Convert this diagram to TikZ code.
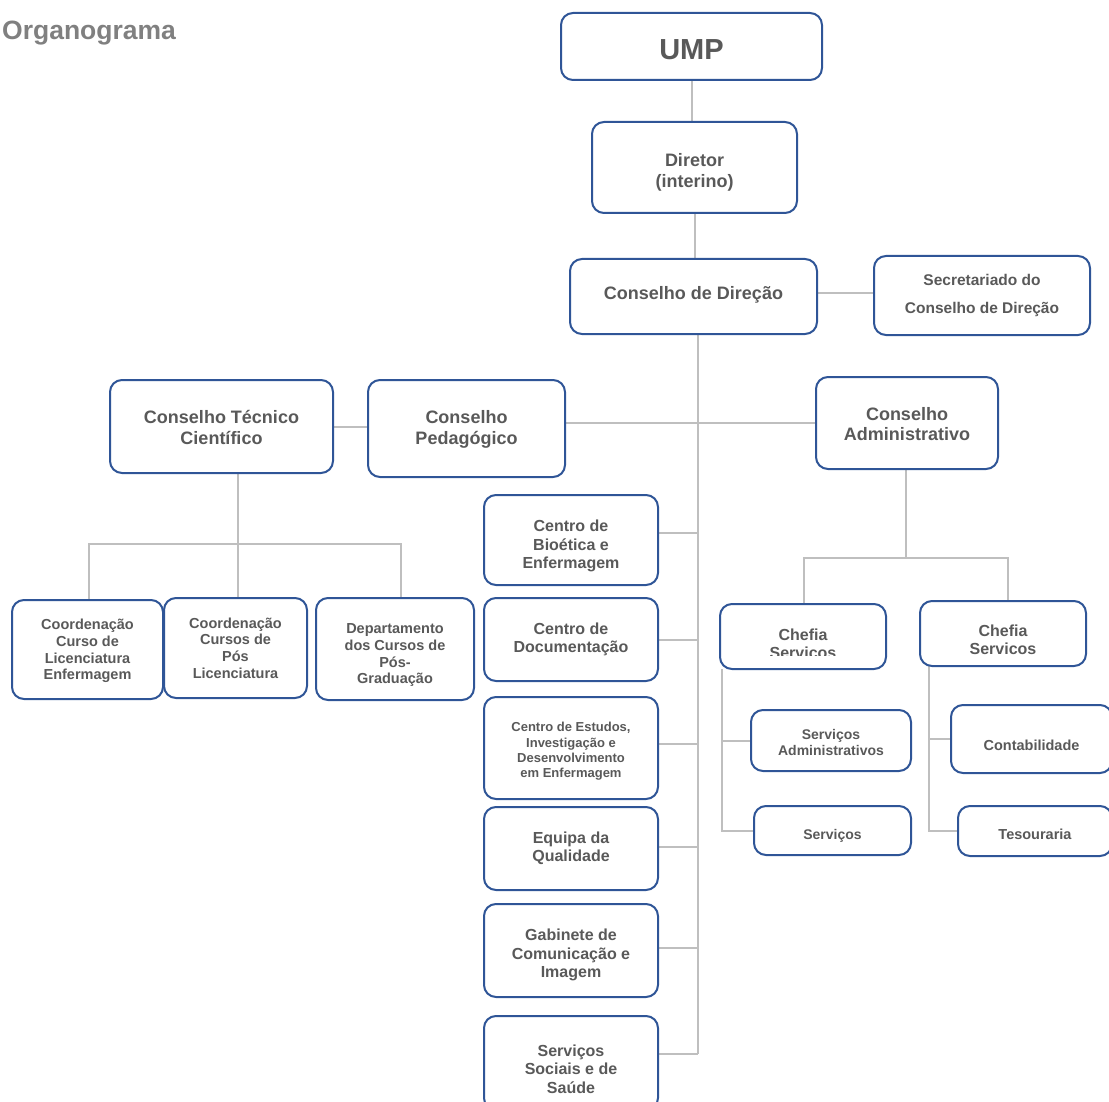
\documentclass[tikz,border=0pt]{standalone}
\usepackage{fontspec}
\setmainfont{Liberation Sans}
\usetikzlibrary{backgrounds}
\definecolor{boxblue}{HTML}{2F5597}
\definecolor{txtgray}{HTML}{595959}
\definecolor{linegray}{HTML}{BFBFBF}
\definecolor{titlegray}{HTML}{808080}
\newcommand\fsz[1]{\fontsize{#1}{\fpeval{#1*1.15}}\selectfont}
% centred lines, lowered by #1 without changing the box size used for centring
\newcommand\btxt[2]{\raisebox{-#1}[\height][\depth]{\vbox{\let\\\cr\halign{\hfil##\hfil\cr#2\crcr}}}}
\tikzset{
  box/.style={draw=boxblue, line width=2pt, rounded corners=12pt, fill=white,
    inner sep=0pt, outer sep=0pt, text=txtgray},
  conn/.style={draw=linegray, line width=2pt},
  ltxt/.style={text=txtgray, inner sep=0pt},
}
\begin{document}
\begin{tikzpicture}[x=1pt,y=-1pt]
\clip (0,0) rectangle (1109,1102);
\node[anchor=west, text=titlegray, font=\bfseries\fsz{26.5}, inner sep=0pt] (title) at (2,33) {Organograma};

% top chain
\node[box, minimum width=261pt, minimum height=67pt, font=\bfseries\fsz{29}] (ump) at (691.5,46.5) {\btxt{3pt}{UMP}};
\node[box, minimum width=205pt, minimum height=91pt, font=\bfseries\fsz{18}] (dir) at (694.5,167.5) {\btxt{5pt}{Diretor\\(interino)}};
\node[box, minimum width=247pt, minimum height=75pt, font=\bfseries\fsz{18}] (cd) at (693.5,296.5) {\btxt{-2pt}{Conselho de Direção}};
\node[box, minimum width=216pt, minimum height=79pt, font=\bfseries\fontsize{15.5}{28}\selectfont] (sec) at (982,295.5) {\btxt{0pt}{Secretariado do\\Conselho de Direção}};

% councils
\node[box, minimum width=223pt, minimum height=93pt, font=\bfseries\fsz{18}] (ctc) at (221.5,426.5) {\btxt{1pt}{Conselho Técnico\\Científico}};
\node[box, minimum width=197pt, minimum height=97pt, font=\bfseries\fsz{18}] (cp) at (466.5,428.5) {\btxt{1pt}{Conselho\\Pedagógico}};
\node[box, minimum width=182pt, minimum height=92pt, font=\bfseries\fsz{18}] (ca) at (907,423) {\btxt{1pt}{Conselho\\Administrativo}};

% central column
\node[box, minimum width=174pt, minimum height=90pt, font=\bfseries\fsz{16}] (bio) at (571,540) {\btxt{6pt}{Centro de\\Bioética e\\Enfermagem}};
\node[box, minimum width=174pt, minimum height=83pt, font=\bfseries\fsz{16}] (doc) at (571,639.5) {\btxt{0pt}{Centro de\\Documentação}};
\node[box, minimum width=174pt, minimum height=102pt, font=\bfseries\fontsize{13}{15.3}\selectfont] (est) at (571,748) {\btxt{3.5pt}{Centro de Estudos,\\Investigação e\\Desenvolvimento\\em Enfermagem}};
\node[box, minimum width=174pt, minimum height=83pt, font=\bfseries\fsz{16}] (qual) at (571,848.5) {\btxt{0pt}{Equipa da\\Qualidade}};
\node[box, minimum width=174pt, minimum height=93pt, font=\bfseries\fsz{16}] (gab) at (571,950.5) {\btxt{4.5pt}{Gabinete de\\Comunicação e\\Imagem}};
\node[box, minimum width=174pt, minimum height=94pt, font=\bfseries\fsz{16}] (soc) at (571,1063) {\btxt{6pt}{Serviços\\Sociais e de\\Saúde}};

% left branch
\node[box, minimum width=151pt, minimum height=99pt, font=\bfseries\fsz{14.5}] (clic) at (87.5,649.5) {\btxt{1.5pt}{Coordenação\\Curso de\\Licenciatura\\Enfermagem}};
\node[box, minimum width=143pt, minimum height=100pt, font=\bfseries\fsz{14.5}] (cpos) at (235.5,648) {\btxt{0pt}{Coordenação\\Cursos de\\Pós\\Licenciatura}};
\node[box, minimum width=158pt, minimum height=102pt, font=\bfseries\fsz{14.5}] (dept) at (395,649) {\btxt{6.5pt}{Departamento\\dos Cursos de\\Pós-\\Graduação}};

% right branch
\node[box, minimum width=166pt, minimum height=65pt] (chefL) at (803,636.5) {};
\begin{scope}
  \clip (chefL.north west) rectangle ([yshift=13.5pt]chefL.south east);
  \node[ltxt, font=\bfseries\fsz{16}] (chefLtxt) at (chefL.center) {\btxt{7pt}{Chefia\\Servicos}};
\end{scope}
\node[box, minimum width=166pt, minimum height=65pt, font=\bfseries\fsz{16}] (chefR) at (1003,633.5) {\btxt{6pt}{Chefia\\Servicos}};
\node[box, minimum width=160pt, minimum height=61pt, font=\bfseries\fsz{14}] (sadm) at (831,740.5) {\btxt{2pt}{Serviços\\Administrativos}};
\node[box, minimum width=157pt, minimum height=49pt, font=\bfseries\fsz{14}] (serv) at (832.5,830.5) {\btxt{5pt}{Serviços}};
\node[box, minimum width=161pt, minimum height=68pt, font=\bfseries\fsz{14.5}] (cont) at (1031.5,739) {\btxt{6pt}{Contabilidade}};
\node[box, minimum width=154pt, minimum height=50pt, font=\bfseries\fsz{14.5}] (tes) at (1035,831) {\btxt{3pt}{Tesouraria}};

\coordinate (trunk) at (698,334);
\coordinate (busL) at (0,544);
\coordinate (busR) at (0,558);
\coordinate (lx) at ([xshift=2pt]chefL.south west);
\coordinate (rx) at ([xshift=9pt]chefR.south west);

\begin{scope}[on background layer]
  \draw[conn] (ump.south) -- (ump.south |- dir.north);
  \draw[conn] (dir.south) -- (dir.south |- cd.north);
  \draw[conn] ([yshift=3pt]cd.east) -- ([yshift=3pt]cd.east -| sec.west);
  \draw[conn] (trunk) -- ([yshift=9pt]soc.east -| trunk);
  \draw[conn] (ca.west) -- (ca.west -| cp.east);
  \draw[conn] (ctc.east) -- (ctc.east -| cp.west);
  \draw[conn] ([yshift=7pt]bio.east) -- ([yshift=7pt]bio.east -| trunk);
  \draw[conn] (doc.east) -- (doc.east -| trunk);
  \draw[conn] ([yshift=4pt]est.east) -- ([yshift=4pt]est.east -| trunk);
  \draw[conn] ([yshift=2pt]qual.east) -- ([yshift=2pt]qual.east -| trunk);
  \draw[conn] ([yshift=3pt]gab.east) -- ([yshift=3pt]gab.east -| trunk);
  \draw[conn] ([yshift=9pt]soc.east) -- ([yshift=9pt]soc.east -| trunk);
  % CTC subtree
  \draw[conn] ([xshift=2.5pt]cpos.north |- ctc.south) -- ([xshift=2.5pt]cpos.north |- busL);
  \draw[conn] ([xshift=1.5pt]clic.north) -- ([xshift=1.5pt]clic.north |- busL) -- ([xshift=6pt]dept.north |- busL) -- ([xshift=6pt]dept.north);
  \draw[conn] ([xshift=2.5pt]cpos.north |- busL) -- ([xshift=2.5pt]cpos.north);
  % CA subtree
  \draw[conn] ([xshift=-1pt]ca.south) -- ([xshift=-1pt]ca.south |- busR);
  \draw[conn] ([xshift=1pt]chefL.north) -- ([xshift=1pt]chefL.north |- busR) -- ([xshift=5pt]chefR.north |- busR) -- ([xshift=5pt]chefR.north);
  \draw[conn] (lx) |- (serv.west);
  \draw[conn] (sadm.west) -- (sadm.west -| lx);
  \draw[conn] (rx) |- (tes.west);
  \draw[conn] (cont.west) -- (cont.west -| rx);
\end{scope}
\end{tikzpicture}
\end{document}
